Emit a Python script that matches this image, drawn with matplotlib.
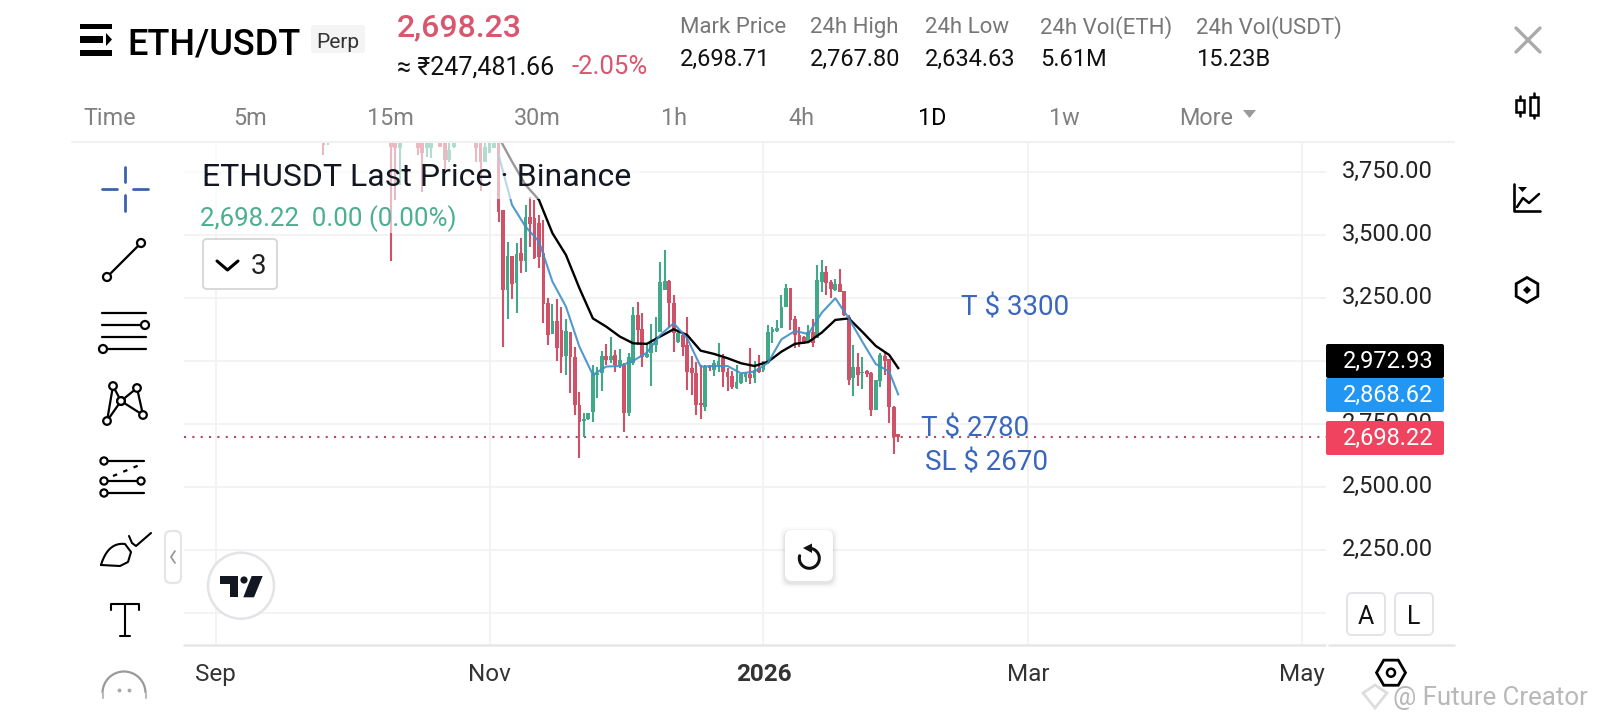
#!/bin/python3
import numpy as np
import pandas as pd
import matplotlib
matplotlib.use('Agg')
import matplotlib.pyplot as plt
import matplotlib.dates as mdates
from matplotlib.patches import Rectangle, FancyBboxPatch, Circle, Polygon, Arc
from matplotlib.transforms import ScaledTranslation

plt.rcParams['font.family'] = ['Roboto', 'DejaVu Sans']

# candles whose lower part shows under the top edge, the rest of Sep/Oct is off the chart
early_dates = ['2025-09-25', '2025-09-26', '2025-10-10', '2025-10-11', '2025-10-12', '2025-10-16',
               '2025-10-17', '2025-10-18', '2025-10-19', '2025-10-21', '2025-10-22', '2025-10-23',
               '2025-10-24', '2025-10-29', '2025-10-30', '2025-10-31', '2025-11-01', '2025-11-02']
dates = list(pd.to_datetime(early_dates)) + list(pd.date_range('2025-11-03', '2026-01-31'))

opens = [3900, 3865, 4350, 3900, 3845, 3900, 3880, 3845, 3845, 3900, 3880, 3799, 3852, 3900, 3880, 3792, 3828, 3845,
         3905, 3600, 3283, 3418, 3309, 3428, 3399, 3574, 3567, 3548, 3428, 3230, 3108, 3161, 3124, 3021, 3118, 3018, 2827, 2764, 2770, 2800, 2946, 2952, 3021, 3005, 3025, 2985,
         2985, 2796, 2992, 3184, 3128, 3016, 3031, 3065, 3118, 3283, 3320, 3230, 3078, 3104, 3065, 2972, 2955, 2833, 2820, 2982, 2965, 2985, 3012, 2959, 2943, 2893, 2915, 2939, 2949, 2932, 2972,
         2965, 2992, 3117, 3121, 3131, 3217, 3289, 3166, 3104, 3095, 3078, 3117, 3091, 3316, 3356, 3316, 3283, 3307, 3279, 3177, 2932, 2976, 2955, 2961, 2952, 2807, 2920, 3021, 3008, 2820, 2710]
highs = [3950, 3960, 4400, 3950, 4000, 3930, 3900, 3920, 3930, 3930, 3900, 3880, 3900, 3920, 3900, 3880, 3890, 3900,
         3920, 3600, 3475, 3418, 3468, 3488, 3620, 3653, 3640, 3581, 3561, 3250, 3227, 3246, 3217, 3167, 3118, 3058, 2879, 2793, 2795, 2985, 2979, 3042, 3069, 3095, 3045, 3047,
         2994, 3031, 3214, 3234, 3190, 3071, 3148, 3174, 3393, 3442, 3323, 3263, 3118, 3118, 3174, 3021, 2998, 2985, 2985, 2985, 3005, 3074, 3029, 2972, 2963, 2985, 2955, 2952, 3051, 3002, 3025,
         3002, 3144, 3137, 3164, 3263, 3305, 3289, 3180, 3135, 3100, 3144, 3166, 3382, 3402, 3378, 3323, 3325, 3365, 3279, 3184, 3065, 3031, 3016, 2965, 2959, 2926, 3032, 3035, 3008, 2823, 2711]
lows = [3819, 3860, 3399, 3640, 3700, 3819, 3671, 3812, 3806, 3850, 3759, 3792, 3845, 3792, 3676, 3792, 3828, 3845,
        3554, 3055, 3167, 3246, 3193, 3352, 3356, 3455, 3405, 3369, 3151, 3065, 3108, 2999, 2955, 2946, 2873, 2787, 2615, 2701, 2767, 2760, 2853, 2883, 2985, 2992, 2959, 2972,
        2718, 2783, 2985, 3065, 2976, 3012, 2903, 3038, 3118, 3283, 3137, 3038, 3074, 3021, 2886, 2866, 2787, 2770, 2804, 2963, 2943, 2959, 2897, 2883, 2889, 2889, 2910, 2916, 2908, 2915, 2952,
        2959, 2989, 3074, 3117, 3131, 3214, 3124, 3051, 3055, 3069, 3074, 3058, 3091, 3276, 3263, 3250, 3280, 3276, 3180, 2906, 2863, 2902, 2889, 2939, 2784, 2807, 2896, 2946, 2754, 2633, 2681]
closes = [3858, 3920, 3852, 3845, 3950, 3845, 3825, 3900, 3900, 3852, 3799, 3839, 3890, 3845, 3792, 3850, 3880, 3890,
          3594, 3283, 3418, 3307, 3426, 3399, 3574, 3544, 3409, 3415, 3227, 3104, 3161, 3051, 3018, 3120, 3018, 2827, 2760, 2770, 2793, 2950, 2952, 3021, 3005, 3022, 2985, 3005,
          2796, 3018, 3184, 3124, 3016, 3029, 3071, 3084, 3316, 3320, 3230, 3111, 3111, 3058, 2959, 2955, 2826, 2826, 2976, 2972, 2992, 3001, 2959, 2939, 2897, 2919, 2949, 2949, 2932, 2965, 2959,
          2994, 3117, 3127, 3131, 3217, 3289, 3164, 3104, 3078, 3078, 3117, 3071, 3323, 3356, 3312, 3287, 3307, 3276, 3184, 2926, 2976, 2945, 2959, 2948, 2807, 2926, 3025, 2999, 2820, 2701, 2698]

ma_dates = list(pd.date_range('2025-11-03', '2026-01-29', freq='3D')) + [pd.Timestamp('2026-01-31')]
ma_black = [3890, 3792, 3700, 3640, 3508, 3422, 3290, 3170, 3137, 3098, 3071, 3069, 3098, 3127, 3104, 3042, 3029, 3012, 2992, 2981,
            2998, 3038, 3069, 3076, 3114, 3164, 3170, 3117, 3061, 3025, 2972.93]
ma_blue = [3819, 3620, 3534, 3475, 3316, 3217, 3058, 2946, 2979, 2981, 3002, 3034, 3104, 3151, 3091, 2979, 2981, 2981, 2952, 2959,
           2994, 3087, 3120, 3108, 3193, 3250, 3170, 3078, 2989, 2959, 2868.62]

last_price = 2698.22
price_ticks = [2000, 2250, 2500, 2750, 3000, 3250, 3500, 3750]
# 2,000 and 3,000 sit under the A/L buttons and the black tag
hidden_ticks = [2000, 3000]
month_ticks = ['2025-09-01', '2025-11-01', '2026-01-01', '2026-03-01', '2026-05-01']
month_labels = ['Sep', 'Nov', '2026', 'Mar', 'May']

header_labels = ['Mark Price', '24h High', '24h Low', '24h Vol(ETH)', '24h Vol(USDT)']
header_values = ['2,698.71', '2,767.80', '2,634.63', '5.61M', '15.23B']
header_x = [680, 810, 925, 1040, 1196]
tabs = ['Time', '5m', '15m', '30m', '1h', '4h', '1D', '1w', 'More']
tabs_x = [84, 234, 368, 515, 662, 789, 919, 1050, 1180]

RED = '#cf5268'
GREEN = '#41a88a'
W, H = 1600, 720

fig = plt.figure(figsize=(16, 7.2), dpi=100, facecolor='white')

# chart, placed on the same pixels as the reference
left, right, top, bottom = 184, 1326, 142, 645
ax = fig.add_axes([left / W, 1 - bottom / H, (right - left) / W, (bottom - top) / H])
x0 = mdates.date2num(pd.Timestamp('2025-09-01'))
ax.set_xlim(x0 + (left - 215.7) / 4.49, x0 + (right - 215.7) / 4.49)
ax.set_ylim(1874, 3870)
for s in ax.spines.values():
    s.set_visible(False)
ax.set_xticks(mdates.date2num(pd.to_datetime(month_ticks)))
ax.set_xticklabels(month_labels, fontsize=17.5, color='#333333')
ax.get_xticklabels()[2].set_fontweight('bold')
ax.set_yticks(price_ticks)
ax.set_yticklabels(['' if p in hidden_ticks else '{:,.2f}'.format(p) for p in price_ticks], fontsize=17, color='#222222')
ax.yaxis.tick_right()
ax.tick_params(axis='both', length=0)
ax.tick_params(axis='y', pad=11.5)
ax.tick_params(axis='x', pad=13)
ax.grid(True, color='#f2f2f2', lw=1.3)
ax.set_axisbelow(True)
lift = ScaledTranslation(0, 2.5 / 72, fig.dpi_scale_trans)
for lab in ax.get_yticklabels():
    lab.set_transform(lab.get_transform() + lift)

xs = mdates.date2num(dates)
opens, highs, lows, closes = map(np.array, (opens, highs, lows, closes))
colors = np.where(closes >= opens, GREEN, RED)
ax.vlines(xs, lows, highs, colors=colors, lw=1.5, zorder=2)
ax.bar(xs, np.abs(closes - opens), bottom=np.minimum(opens, closes), width=0.84, color=colors, zorder=3)
ax.plot(mdates.date2num(ma_dates), ma_black, color='black', lw=1.7, zorder=4)
ax.plot(mdates.date2num(ma_dates), ma_blue, color='#3f8fc8', lw=1.5, alpha=0.9, zorder=4)
ax.axhline(last_price, color='#b5475f', lw=1.5, ls=(0, (1, 3)), zorder=1)

# everything else is drawn in picture pixels
ui = fig.add_axes([0, 0, 1, 1], facecolor='none')
ui.set_xlim(0, W)
ui.set_ylim(H, 0)
ui.axis('off')


def text(x, y, s, size, color='black', ha='left', **kw):
    ui.text(x, y, s, fontsize=size, color=color, ha=ha, va='center_baseline', **kw)


def line(xv, yv, color='black', lw=1.6, **kw):
    ui.plot(xv, yv, color=color, lw=lw, solid_capstyle='round', **kw)


def dot(x, y, r=4.0, color='black', lw=1.6, fill='white'):
    ui.add_patch(Circle((x, y), r, fc=fill, ec=color, lw=lw, zorder=5))


def box(x0, y0, x1, y1, fc='white', ec='none', lw=1.0, r=3.0, **kw):
    ui.add_patch(FancyBboxPatch((x0 + r, y0 + r), x1 - x0 - 2 * r, y1 - y0 - 2 * r, boxstyle='round,pad=%f' % r,
                                fc=fc, ec=ec, lw=lw, **kw))


def hexagon(cx, cy, r, start, color='black', lw=2.0):
    a = np.radians(start + np.arange(6) * 60)
    ui.add_patch(Polygon(np.c_[cx + r * np.cos(a), cy + r * np.sin(a)], closed=True, fc='none', ec=color, lw=lw))


# legend background washes the candles out
ui.add_patch(Rectangle((184, 143), 456, 56, fc='white', alpha=0.6, ec='none'))
ui.add_patch(Rectangle((184, 199), 276, 34, fc='white', alpha=0.6, ec='none'))

# header
for yb in [(24, 29), (50, 56)]:
    ui.add_patch(Rectangle((80, yb[0]), 32, yb[1] - yb[0], fc='black'))
ui.add_patch(Rectangle((80, 36), 23, 7, fc='black'))
ui.add_patch(Polygon([[106, 33], [112, 39.5], [106, 46]], fc='black'))
text(127, 41, 'ETH/USDT', 26, fontweight='medium')
box(311, 25, 365, 53, fc='#f4f4f4')
text(338, 40, 'Perp', 15, color='#333333', ha='center')
text(397, 25, '2,698.23', 23, color='#d9566e', fontweight='medium')
text(397, 65, '\u2248 \u20b9247,481.66', 18, color='#111111')
text(571, 65, '-2.05%', 18.5, color='#d9566e')
for xt, lab, val in zip(header_x, header_labels, header_values):
    text(xt, 25, lab, 16, color='#777777')
    text(xt, 57, val, 17, color='#111111')
for xt, lab in zip(tabs_x, tabs):
    text(xt - 1, 116, lab, 16.8, color='black' if lab == '1D' else '#808080')
ui.add_patch(Polygon([[1243, 110], [1256, 110], [1249.5, 118]], fc='#9a9a9a'))
line([72, 1454], [142, 142], color='#f0f0f0', lw=1.5)

# legend
text(202, 174, 'ETHUSDT Last Price \u00b7 Binance', 23, color='#131722')
text(200, 216, '2,698.22  0.00 (0.00%)', 18.6, color='#4caf8f')
box(203, 239, 277, 289, ec='#d5d5d5', lw=1.3, r=4)
line([217, 227.5, 238], [261, 270, 261], lw=2.2)
text(259, 264, '3', 20, color='#222222', ha='center')

# left tool bar
blue = '#3b62b0'
line([124.7, 124.7], [167, 182], color=blue, lw=2)
line([124.7, 124.7], [195, 211], color=blue, lw=2)
line([102, 117], [189, 189], color=blue, lw=2)
line([133, 148], [189, 189], color=blue, lw=2)

line([107, 141], [277, 243])
dot(107, 277)
dot(141, 243)

line([102, 146], [313, 313])
line([102, 141], [325, 325])
line([102, 146], [337, 337])
line([107, 146], [349, 349])
dot(145, 325)
dot(103, 349)

px = [107, 113, 121, 137, 143, 121, 107]
py = [421, 386, 401, 388, 415, 401, 421]
line(px, py)
for a, b in zip(px[:-1], py[:-1]):
    dot(a, b, r=3.8)

line([104, 144], [461, 461])
line([104, 141], [481, 481])
line([104, 144], [493, 493])
ui.plot([113, 142], [476, 464], color='black', lw=1.6, ls=(0, (2, 3)))
for a, b in [(104, 461), (104, 481), (141, 481), (104, 493)]:
    dot(a, b, r=3.6)

t = np.linspace(0, 1, 30)
curve_x = (1 - t) ** 2 * 101 + 2 * t * (1 - t) * 108 + t ** 2 * 125
curve_y = (1 - t) ** 2 * 565 + 2 * t * (1 - t) * 542 + t ** 2 * 544
line(list(curve_x) + [131, 128, 120, 101], list(curve_y) + [552, 562, 566, 565], lw=1.5)
line([129, 132, 136, 151], [536, 543, 546, 533], lw=1.5)

line([111, 111, 139, 139], [610, 604, 604, 610], lw=1.5)
line([125, 125], [604, 636], lw=1.5)
line([120, 130], [636, 636], lw=1.5)

ui.add_patch(Arc((124, 693), 43, 43, theta1=180, theta2=360, color='#999999', lw=1.6))
line([102.5, 102.5], [693, 698], color='#bbbbbb', lw=1.5)
line([145.5, 145.5], [693, 698], color='#bbbbbb', lw=1.5)
ui.plot([119, 129], [690, 690], ls='none', marker='o', ms=1.8, color='#aaaaaa')

box(165, 531, 181, 583, ec='#e5e5e5', lw=1.6, r=6)
line([175, 171, 175], [551, 557, 563], color='#999999', lw=1.3)

# tradingview badge
dark = '#131722'
ui.add_patch(Circle((241, 585.7), 33, fc='white', ec='#e3e3e8', lw=1.8))
ui.add_patch(Polygon([[220, 576], [238.3, 576], [238.3, 597.3], [230, 597.3], [230, 584], [220, 584]], fc=dark))
ui.add_patch(Circle((244, 580), 3.6, fc=dark))
ui.add_patch(Polygon([[251.7, 576], [262.7, 576], [254, 597.3], [243.3, 597.3]], fc=dark))

# reset button
for pad, a in [(5, 0.02), (3, 0.03), (1.5, 0.05)]:
    box(785 - pad, 530 - pad + 2, 833 + pad, 581 + pad + 2, fc='black', alpha=a, r=8)
box(785, 530, 833, 581, r=7)
ang = np.radians(np.linspace(-95, 195, 40))
line(809.3 + 10 * np.cos(ang), 558.3 + 10 * np.sin(ang), color='#111111', lw=2.2)
ui.add_patch(Polygon([[803, 548], [812, 543.5], [812, 553]], fc='#111111'))

# trade notes
note = '#3a66be'
text(961, 305, 'T $ 3300', 20, color=note)
text(921, 426, 'T $ 2780', 20, color=note)
text(925, 460, 'SL $ 2670', 20, color=note)

# price tags
for y0, y1, c, lab in [(344, 378, 'black', '2,972.93'), (378, 412, '#2196f3', '2,868.62'), (421, 455, '#f0435f', '2,698.22')]:
    box(1326, y0, 1444, y1, fc=c, r=2)
    text(1433, (y0 + y1) / 2 - 2, lab, 17, color='white', ha='right')

box(1347, 593, 1385, 635, ec='#e3e3e8', lw=1.4, r=5)
box(1395, 593, 1433, 635, ec='#e3e3e8', lw=1.4, r=5)
text(1366, 614, 'A', 18, color='#111111', ha='center')
text(1414, 614, 'L', 18, color='#111111', ha='center')
line([1329, 1454], [645, 645], color='#e6e6e6', lw=1.8)
line([184, 1325], [645, 645], color='#e6e6e6', lw=1.8)

hexagon(1391, 672.7, 14.5, 0)
ui.add_patch(Circle((1391, 672.7), 4, fc='none', ec='black', lw=1.8))

# right tool bar
line([1516, 1540], [28, 52], color='#aaaaaa', lw=2.4)
line([1516, 1540], [52, 28], color='#aaaaaa', lw=2.4)
ui.add_patch(Rectangle((1516, 100), 8, 12, fc='none', ec='black', lw=1.8))
line([1520, 1520], [96, 100], lw=1.8)
line([1520, 1520], [112, 116], lw=1.8)
ui.add_patch(Rectangle((1530, 97), 8, 18, fc='none', ec='black', lw=1.8))
line([1534, 1534], [93, 97], lw=1.8)
line([1534, 1534], [115, 118], lw=1.8)
line([1514, 1514, 1540], [184, 211, 211], lw=1.9)
line([1517, 1523, 1529, 1539], [207, 198, 203, 194], lw=1.8)
ui.add_patch(Polygon([[1518, 187], [1527, 187], [1522.5, 192]], fc='black'))
hexagon(1527, 290, 12.5, 30)
ui.add_patch(Polygon([[1527, 286], [1531, 290], [1527, 294], [1523, 290]], fc='black'))

# watermark
wm = '#b8b8b8'
ui.add_patch(Polygon([[1375, 685], [1387, 693], [1375, 708], [1363, 693]], fc='none', ec='#dddddd', lw=2))
text(1393, 696, '@ Future Creator', 18.6, color=wm)

fig.savefig('out.png', dpi=100)
